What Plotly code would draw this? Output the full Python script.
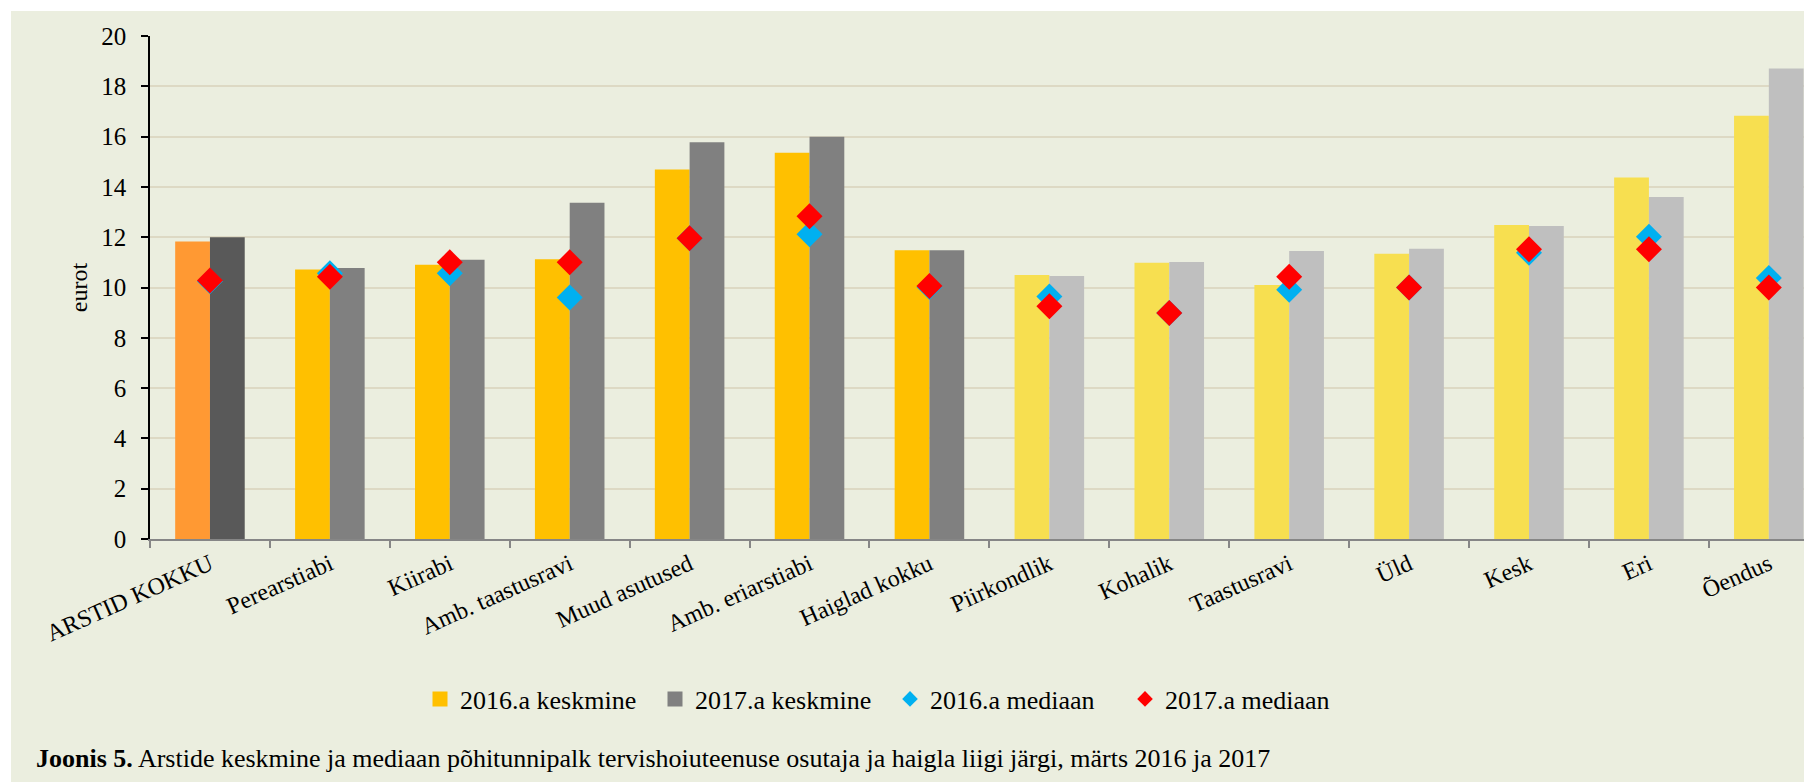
import plotly.graph_objects as go

categories = ["ARSTID KOKKU", "Perearstiabi", "Kiirabi", "Amb. taastusravi", "Muud asutused",
              "Amb. eriarstiabi", "Haiglad kokku", "Piirkondlik", "Kohalik", "Taastusravi",
              "Üld", "Kesk", "Eri", "Õendus"]
mean_2016 = [11.83, 10.72, 10.90, 11.12, 14.69, 15.36, 11.48, 10.50, 10.98, 10.10, 11.34, 12.49, 14.37, 16.83]
mean_2017 = [12.00, 10.78, 11.10, 13.37, 15.78, 15.99, 11.48, 10.46, 11.01, 11.45, 11.54, 12.45, 13.60, 18.71]
median_2016 = [10.25, 10.57, 10.57, 9.60, 11.96, 12.12, 10.02, 9.64, 8.99, 9.91, 10.00, 11.38, 12.02, 10.38]
median_2017 = [10.28, 10.43, 11.00, 11.00, 11.96, 12.83, 10.06, 9.25, 8.99, 10.43, 10.00, 11.52, 11.52, 10.00]

colors_2016 = ["#FF9933"] + ["#FFC000"] * 6 + ["#F7DF50"] * 7
colors_2017 = ["#595959"] + ["#808080"] * 6 + ["#BFBFBF"] * 7

FONT = "Liberation Serif, Times New Roman, serif"
OFF = 8  # page body margin
W, H = 1812 - OFF, 782 - OFF
ML, MR, MT, MB = 150 - OFF, 0, 36 - OFF, 243
PW, PH = W - ML - MR, H - MT - MB


def px_x(p):  # p: pixel in screenshot coordinates
    return (p - OFF - ML) / PW


def px_y(p):
    return (H - MB - (p - OFF)) / PH


fig = go.Figure()
fig.add_trace(go.Bar(x=categories, y=mean_2016, marker=dict(color=colors_2016, line_width=0),
                     offsetgroup="a", showlegend=False, name="2016.a keskmine"))
fig.add_trace(go.Bar(x=categories, y=mean_2017, marker=dict(color=colors_2017, line_width=0),
                     offsetgroup="b", showlegend=False, name="2017.a keskmine"))
fig.add_trace(go.Scatter(x=categories, y=median_2016, mode="markers", showlegend=False,
                         name="2016.a mediaan",
                         marker=dict(symbol="diamond", size=20, color="#00B0F0", line_width=0)))
fig.add_trace(go.Scatter(x=categories, y=median_2017, mode="markers", showlegend=False,
                         name="2017.a mediaan",
                         marker=dict(symbol="diamond", size=20, color="#FF0000", line_width=0)))

# legend entries
for name, sym, col, sz in [("2016.a keskmine", "square", "#FFC000", 15),
                           ("2017.a keskmine", "square", "#808080", 15),
                           ("2016.a mediaan", "diamond", "#00B0F0", 12),
                           ("2017.a mediaan", "diamond", "#FF0000", 12)]:
    fig.add_trace(go.Scatter(x=[None], y=[None], mode="markers", name=name,
                             marker=dict(symbol=sym, size=sz, color=col, line_width=0)))

fig.update_layout(
    width=W, height=H,
    margin=dict(l=ML, r=MR, t=MT, b=MB, pad=0),
    paper_bgcolor="white",
    plot_bgcolor="white",
    barmode="group",
    bargap=0.42,
    bargroupgap=0,
    font=dict(family=FONT, color="black", size=24),
    showlegend=True,
    legend=dict(orientation="h", x=px_x(420), xanchor="left", y=px_y(699), yanchor="middle",
                font=dict(family=FONT, size=26, color="black"), bgcolor="rgba(0,0,0,0)",
                itemsizing="trace", traceorder="normal", entrywidth=190, entrywidthmode="pixels"),
    shapes=[dict(type="rect", xref="paper", yref="paper", layer="below",
                 x0=px_x(11), x1=px_x(1830), y0=px_y(11), y1=px_y(800),
                 fillcolor="#EBEEDF", line_width=0)],
    annotations=[dict(xref="paper", yref="paper", x=px_x(34), y=px_y(758), xanchor="left",
                      yanchor="middle", showarrow=False,
                      text="<b>Joonis 5.</b> Arstide keskmine ja mediaan põhitunnipalk tervishoiuteenuse osutaja ja haigla liigi järgi, märts 2016 ja 2017",
                      font=dict(family=FONT, size=26, color="black"))],
)

fig.update_xaxes(
    type="category", range=[-0.5, 13.36],
    showline=True, linecolor="#868686", linewidth=2,
    ticks="outside", tickson="boundaries", ticklen=7, tickcolor="#868686", tickwidth=2,
    tickangle=-24, tickfont=dict(family=FONT, size=24, color="black"),
    showgrid=False, zeroline=False,
)
fig.update_yaxes(
    range=[0, 20], dtick=2, tick0=0,
    showline=True, linecolor="black", linewidth=1.5,
    ticks="outside", ticklen=7, tickcolor="black", tickwidth=1.5,
    ticklabelstandoff=10,
    tickfont=dict(family=FONT, size=25, color="black"),
    showgrid=True, gridcolor="#DDD9C4", gridwidth=2,
    zeroline=False,
    title=dict(text="eurot", font=dict(family=FONT, size=24, color="black"), standoff=7),
)

fig.write_html("out.html")
